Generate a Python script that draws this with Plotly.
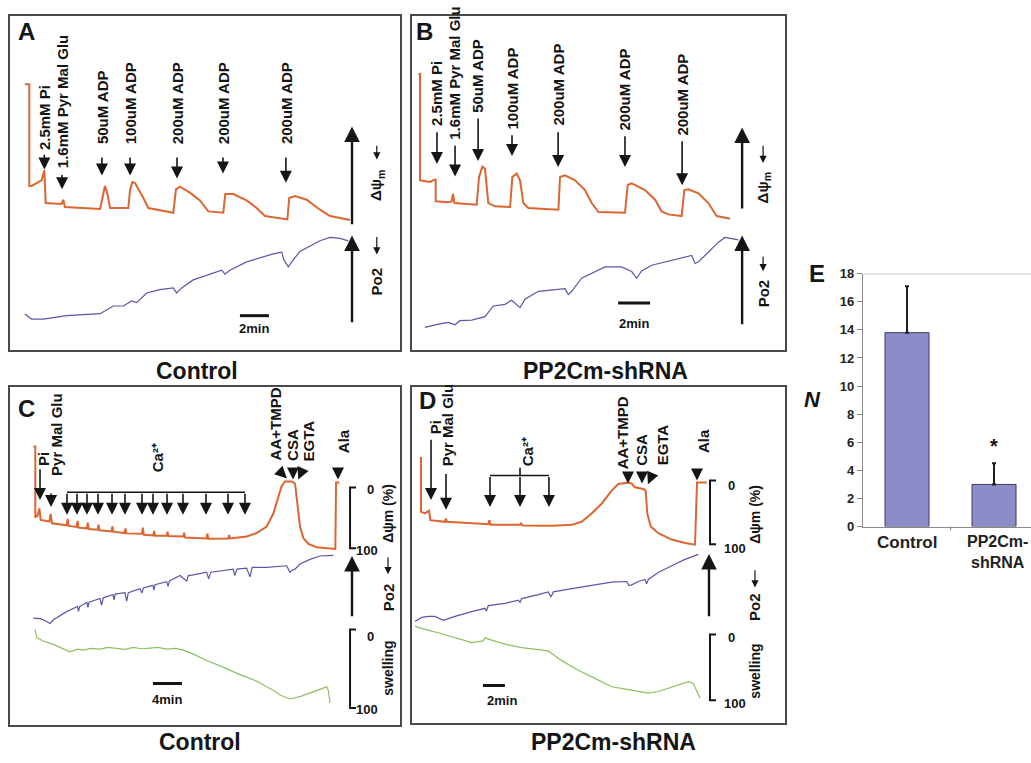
import plotly.graph_objects as go

W, H = 1031, 763
FONT = "Liberation Sans, Arial, Helvetica, sans-serif"
ORANGE = "#dc6530"
BLUE = "#5858a8"
GREEN = "#8cc060"
INK = "#151515"
FRAME = "#4a4a4a"

# ---------------- data (time in min, signal in a.u. 0-100 of trace window) ----------------
# Panel A : Control, ADP titration
A_t_psi = [1.03, 1.33, 1.33, 1.49, 2.18, 2.37, 2.46, 3.56, 3.68, 3.79, 6.21, 6.39, 6.55, 6.71, 6.90, 8.16, 8.28, 8.44,
           8.62, 9.20, 9.54, 11.26, 11.45, 11.72, 12.41, 13.10, 13.68, 14.71, 14.85, 15.40, 16.32, 17.01, 17.59, 19.13,
           19.26, 19.66, 20.46, 21.38, 22.07, 23.45]
A_psi = [79.5, 79.5, 49.1, 49.1, 50.8, 53.8, 44.0, 43.7, 45.0, 42.8, 42.2, 45.9, 49.1, 46.9, 42.5, 42.5, 47.9, 50.3,
         50.0, 45.5, 42.5, 41.1, 48.1, 48.9, 47.1, 44.8, 41.5, 41.1, 46.7, 46.7, 44.8, 42.5, 40.1, 39.1,
         45.5, 46.1, 45.0, 42.0, 40.1, 38.9]
A_t_po2 = [1.03, 1.49, 2.30, 3.91, 6.21, 6.55, 7.13, 7.82, 8.39, 8.74, 9.43, 10.34, 11.26, 11.49, 11.84, 12.64, 14.02,
           14.60, 14.83, 15.17, 16.32, 18.16, 18.74, 18.90, 19.20, 19.43, 20.00, 21.38, 22.07, 22.76, 23.33]
A_po2 = [10.8, 9.3, 9.3, 10.3, 10.9, 11.7, 13.2, 13.2, 14.7, 14.2, 17.1, 18.1, 18.6, 17.1, 18.6, 21.0, 23.0,
         23.9, 22.7, 23.9, 26.4, 28.8, 29.3, 26.9, 24.9, 26.4, 29.5, 32.7, 33.7, 33.4, 32.7]
A_labels = ["2.5mM Pi", "1.6mM Pyr Mal Glu", "50uM ADP", "100uM ADP", "200uM ADP", "200uM ADP", "200uM ADP"]
A_times = [2.37, 3.59, 6.34, 8.28, 11.52, 14.69, 19.03]
A_scale_min = 2

# Panel B : PP2Cm-shRNA, ADP titration
B_t_psi = [0.40, 0.50, 0.50, 1.13, 1.40, 1.48, 1.48, 2.27, 2.48, 2.56, 2.65, 4.04, 4.19, 4.40, 4.56, 4.77, 5.19, 6.13,
           6.27, 6.54, 6.75, 6.96, 7.27, 9.15, 9.25, 9.56, 10.19, 10.81, 11.23, 11.65, 13.31, 13.48, 13.73, 14.56,
           15.19, 15.60, 16.02, 16.85, 17.02, 17.27, 17.90, 18.52, 19.04, 19.88]
B_psi = [82.6, 82.6, 50.8, 50.3, 51.0, 51.0, 44.5, 44.2, 44.5, 46.7, 44.0, 43.5, 51.8, 54.9, 54.3, 44.0, 43.0, 42.8,
         51.8, 52.8, 50.8, 44.0, 42.5, 42.0, 51.8, 52.3, 50.8, 47.9, 44.0, 41.3, 41.1, 49.4, 49.9, 47.9,
         45.0, 41.5, 40.6, 40.1, 47.9, 48.1, 46.9, 44.0, 40.1, 39.3]
B_t_po2 = [0.81, 1.65, 2.27, 2.69, 3.00, 3.73, 4.56, 4.77, 5.08, 5.81, 6.23, 6.75, 7.06, 7.90, 8.73, 9.56, 9.77, 9.98,
           10.60, 12.06, 13.10, 13.73, 14.04, 14.35, 14.98, 16.65, 17.48, 17.69, 17.90, 18.31, 19.15, 19.56, 20.40]
B_po2 = [6.8, 7.8, 8.3, 7.6, 8.8, 9.0, 10.0, 11.2, 13.2, 13.7, 14.9, 12.7, 15.2, 17.6, 18.1, 18.4, 16.6, 17.6,
         21.5, 24.9, 24.9, 23.5, 21.5, 23.7, 25.4, 27.4, 28.3, 25.9, 26.4, 28.3, 32.3, 33.7, 33.0]
B_labels = A_labels
B_times = [1.56, 2.69, 4.13, 6.25, 9.13, 13.31, 16.88]
B_scale_min = 2

# Panel C : Control, Ca2+ pulses
C_t_psi = [3.22, 3.49, 3.49, 3.77, 4.05, 4.23, 5.43, 5.61, 5.79, 7.80, 7.95, 8.10, 9.20, 9.32, 9.45, 10.60, 10.72,
           10.85, 12.10, 12.22, 12.35, 14.00, 14.12, 14.25, 15.80, 15.92, 16.05, 18.20, 18.32, 18.45, 19.75, 19.87,
           20.00, 21.60, 21.72, 21.85, 23.90, 24.02, 24.15, 26.20, 27.10, 27.22, 27.35, 30.10, 30.22, 30.35, 32.64,
           34.02, 35.40, 36.32, 37.01, 37.47, 37.93, 38.85, 39.31, 39.68, 40.00, 40.46, 41.15, 42.30, 44.60, 44.87,
           44.97, 45.43]
C_psi = [82.5, 82.5, 61.6, 61.8, 64.1, 60.7, 60.2, 62.5, 59.7, 59.1, 61.0, 58.9, 58.6, 60.4, 58.4, 58.2, 59.9,
         58.0, 57.8, 59.3, 57.6, 57.3, 58.8, 57.2, 56.8, 58.2, 56.7, 56.6, 58.4, 56.3, 56.1, 57.4,
         56.0, 56.0, 57.2, 55.9, 55.8, 56.9, 55.5, 55.3, 55.2, 56.6, 55.1, 55.2, 56.2, 55.2, 55.8,
         56.8, 58.7, 62.6, 67.4, 70.8, 72.1, 72.1, 71.5, 64.5, 58.7, 55.3, 53.6, 52.6, 52.1, 52.1,
         71.8, 71.8]
C_t_po2 = [3.22, 4.20, 5.06, 5.52, 5.98, 7.82, 9.30, 9.45, 9.60, 10.60, 10.75, 10.90, 12.41, 12.64, 12.87, 14.20, 14.35,
           14.50, 15.86, 16.09, 16.32, 17.93, 18.20, 18.40, 19.70, 19.85, 20.00, 21.61, 21.80, 22.00, 23.45, 24.37,
           24.60, 25.29, 27.13, 27.40, 27.70, 30.80, 31.00, 31.30, 32.64, 33.10, 33.40, 35.40, 38.16, 38.60, 38.85,
           39.31, 40.00, 41.38, 42.76, 44.60]
C_po2 = [31.6, 31.4, 30.6, 30.0, 31.1, 33.5, 35.0, 33.6, 35.0, 36.2, 34.8, 36.3, 37.4, 35.4, 37.6, 38.6, 37.0,
         38.7, 39.1, 36.6, 39.1, 40.3, 39.0, 40.5, 41.3, 39.9, 41.5, 42.4, 41.0, 42.6, 44.2, 42.6,
         44.2, 44.4, 45.2, 43.2, 45.2, 46.1, 44.2, 46.1, 46.4, 43.8, 46.6, 46.6, 47.1, 45.2, 45.7,
         46.1, 47.6, 49.0, 50.0, 50.2]
C_t_sw = [3.45, 3.68, 4.60, 5.98, 7.20, 8.28, 9.30, 10.11, 11.20, 12.41, 13.50, 14.71, 15.90, 17.01, 18.10, 19.31,
          20.40, 21.61, 22.80, 23.91, 25.29, 27.13, 28.50, 29.89, 31.30, 32.64, 34.00, 35.40, 36.30, 37.24, 38.62,
          40.00, 41.84, 43.68, 43.91, 44.14]
C_sw = [28.2, 25.8, 24.8, 23.8, 22.6, 21.6, 22.4, 22.1, 22.6, 22.4, 22.9, 22.7, 22.3, 22.9, 22.5, 22.7,
        22.9, 22.4, 22.6, 22.1, 20.9, 19.0, 17.9, 16.6, 15.2, 14.1, 12.9, 11.2, 10.2, 8.8, 7.6,
        8.3, 9.8, 11.2, 10.1, 6.4]
C_ca_times = [7.86, 9.24, 10.62, 12.14, 14.07, 15.86, 18.21, 19.72, 21.66, 23.86, 27.03, 30.07, 32.41]
C_scale_min = 4

# Panel D : PP2Cm-shRNA, Ca2+ pulses
D_t_psi = [0.73, 0.82, 0.82, 1.18, 1.55, 1.67, 3.00, 3.09, 3.18, 6.94, 7.03, 7.15, 9.82, 9.91, 10.03, 12.85, 14.52,
           15.42, 16.33, 17.24, 18.15, 18.76, 19.67, 19.97, 20.27, 21.03, 21.24, 21.39, 21.70, 22.39, 23.61, 24.82,
           25.73, 25.91, 26.79]
D_psi = [78.9, 78.9, 62.9, 62.4, 63.2, 60.4, 59.9, 60.9, 59.9, 59.2, 60.4, 59.0, 59.0, 59.6, 58.8, 58.7, 59.0,
         59.9, 62.4, 65.3, 69.2, 71.2, 71.6, 71.3, 70.2, 69.7, 69.2, 62.4, 58.5, 56.5, 54.6, 53.6,
         53.1, 71.6, 71.6]
D_t_po2 = [0.27, 0.88, 1.48, 2.09, 2.85, 3.91, 5.42, 6.64, 6.76, 6.94, 8.45, 9.67, 9.82, 9.97, 11.48, 12.39, 12.64,
           12.85, 14.52, 16.33, 18.15, 19.52, 19.73, 19.97, 20.58, 21.18, 21.33, 21.48, 22.39, 23.61, 24.82, 26.03]
D_po2 = [30.2, 31.4, 31.7, 31.7, 30.5, 31.7, 33.1, 34.1, 33.3, 34.9, 35.6, 36.5, 35.9, 37.0, 38.2, 39.0, 37.5,
         39.0, 40.0, 40.9, 41.9, 42.1, 40.9, 41.1, 42.1, 42.7, 41.4, 42.7, 44.8, 46.8, 48.7, 50.2]
D_t_sw = [0.27, 1.18, 2.39, 3.91, 5.42, 6.48, 6.64, 6.94, 8.45, 9.97, 11.48, 12.39, 13.61, 15.12, 16.64, 18.15,
          19.97, 21.48, 22.39, 23.61, 25.12, 25.58, 25.88, 26.18]
D_sw = [28.8, 27.8, 26.8, 25.3, 23.9, 24.4, 25.3, 24.9, 23.4, 22.4, 21.9, 21.4, 18.5, 15.6, 13.2, 10.7,
        9.7, 8.8, 9.3, 10.7, 12.2, 11.7, 9.7, 7.3]
D_ca_times = [7.09, 9.82, 12.45]
D_scale_min = 2

CD_events = ["Pi", "Pyr Mal Glu", "Ca²⁺", "AA+TMPD", "CSA", "EGTA", "Ala"]

# Panel E : number of Ca2+ pulses tolerated
E_groups = ["Control", "PP2Cm-<br>shRNA"]
E_N = [13.8, 3.0]
E_err = [3.3, 1.5]
E_yticks = [0, 2, 4, 6, 8, 10, 12, 14, 16, 18]

# ---------------- layout geometry ----------------
def px(x):
    return x / W


def py(y):
    return 1 - y / H


boxes = {"": (10, 9, 400, 350, 26.9), "2": (412, 9, 785, 350, 23.31),
         "3": (10, 388, 400, 732, 53.79), "4": (412, 388, 785, 730, 33.91)}

fig = go.Figure()
layout = dict(width=W, height=H, margin=dict(l=0, r=0, t=0, b=0), paper_bgcolor="white",
              plot_bgcolor="white", showlegend=False, font=dict(family=FONT, color=INK))

for k, (x0, y0, x1, y1, xr) in boxes.items():
    common = dict(showline=True, mirror=True, linecolor=FRAME, linewidth=1.5, showgrid=False,
                  zeroline=False, showticklabels=False, ticks="", fixedrange=True)
    layout["xaxis" + k] = dict(domain=[px(x0), px(x1)], range=[0, xr], anchor="y" + k, **common)
    layout["yaxis" + k] = dict(domain=[py(y1), py(y0)], range=[0, 100], anchor="x" + k, **common)

ann = []
shapes = []


def line(k, t, y, color, width):
    fig.add_trace(go.Scatter(x=t, y=y, mode="lines", line=dict(color=color, width=width),
                             xaxis="x" + k, yaxis="y" + k, hoverinfo="skip"))


def label(k, t, y, text, size=13, angle=-90, xanchor="center", yanchor="bottom"):
    ann.append(dict(x=t, y=y, xref="x" + k, yref="y" + k, text=text, showarrow=False, textangle=angle,
                    xanchor=xanchor, yanchor=yanchor, font=dict(size=size, weight="bold", color=INK)))


def arrow(k, t0, y0, t1, y1, width=1.6, size=1.5):
    ann.append(dict(x=t1, y=y1, ax=t0, ay=y0, xref="x" + k, yref="y" + k, axref="x" + k, ayref="y" + k,
                    text="", showarrow=True, arrowhead=2, arrowsize=size, arrowwidth=width,
                    arrowcolor=INK, standoff=0, startstandoff=0))


def scalebar(k, t0, y, minutes, ylab, tlab=None):
    shapes.append(dict(type="line", xref="x" + k, yref="y" + k, x0=t0, x1=t0 + minutes, y0=y, y1=y,
                       line=dict(color=INK, width=3)))
    label(k, tlab if tlab is not None else t0 + minutes / 2, ylab, f"{minutes}min", size=13, angle=0,
          yanchor="middle")


def bracket(k, t, ytop, ybot, tick):
    shapes.append(dict(type="path", xref="x" + k, yref="y" + k,
                       path=f"M {t + tick},{ytop} L {t},{ytop} L {t},{ybot} L {t + tick},{ybot}",
                       line=dict(color=INK, width=2)))


# ---- Panel A ----
line("", A_t_psi, A_psi, ORANGE, 2)
line("", A_t_po2, A_po2, BLUE, 1.2)
A_lab_y = [59.2, 53.7, 61.0, 61.0, 61.0, 61.0, 61.0]
A_arr = [(58.9, 54.0), (52.8, 48.1), (58.1, 52.2), (58.1, 52.2), (58.1, 51.3), (58.1, 52.8), (58.1, 50.1)]
for txt, t, yl, (ya, yb) in zip(A_labels, A_times, A_lab_y, A_arr):
    label("", t, yl, txt, size=15)
    arrow("", t, ya, t, yb)
label("", 1.17, 95.3, "A", size=24, angle=0, yanchor="middle")
arrow("", 23.59, 37.2, 23.59, 66.9, width=2.4, size=1.3)
arrow("", 23.59, 7.9, 23.59, 34.3, width=2.4, size=1.3)
label("", 25.3, 49.3, "Δψ<sub>m</sub>", size=15, yanchor="middle")
arrow("", 25.3, 61.6, 25.3, 57.0, width=1.2, size=1.2)
label("", 25.3, 20.5, "Po2", size=15, yanchor="middle")
arrow("", 25.3, 34.3, 25.3, 28.6, width=1.2, size=1.2)
scalebar("", 15.86, 10.3, A_scale_min, 6.5)

# ---- Panel B ----
line("2", B_t_psi, B_psi, ORANGE, 2)
line("2", B_t_po2, B_po2, BLUE, 1.2)
B_lab_y = [66.6, 62.2, 70.4, 65.4, 66.6, 65.1, 63.6]
B_arr = [(65.6, 55.7), (61.6, 51.9), (69.7, 56.6), (64.7, 58.1), (65.6, 54.8), (64.4, 54.8), (62.9, 49.3)]
for txt, t, yl, (ya, yb) in zip(B_labels, B_times, B_lab_y, B_arr):
    label("2", t, yl, txt, size=15)
    arrow("2", t, ya, t, yb)
label("2", 0.81, 95.3, "B", size=24, angle=0, yanchor="middle")
arrow("2", 20.63, 41.9, 20.63, 66.6, width=2.4, size=1.3)
arrow("2", 20.63, 7.3, 20.63, 34.3, width=2.4, size=1.3)
label("2", 21.94, 48.4, "Δψ<sub>m</sub>", size=15, yanchor="middle")
arrow("2", 21.94, 61.6, 21.94, 56.0, width=1.2, size=1.2)
label("2", 21.94, 17.0, "Po2", size=15, yanchor="middle")
arrow("2", 21.94, 28.4, 21.94, 23.6, width=1.2, size=1.2)
scalebar("2", 12.88, 14.1, B_scale_min, 7.9)

# ---- Panel C ----
line("3", C_t_psi, C_psi, ORANGE, 2)
line("3", C_t_po2, C_po2, BLUE, 1.2)
line("3", C_t_sw, C_sw, GREEN, 1.2)
C_lab_pos = [(4.60, 76.2), (6.48, 73.3), (20.28, 74.1), (36.55, 77.6), (39.03, 77.6), (41.10, 77.6), (45.93, 79.9)]
for txt, (t, y) in zip(CD_events, C_lab_pos):
    label("3", t, y, txt, size=15)
arrow("3", 4.14, 76.2, 4.14, 66.6)
arrow("3", 5.66, 69.0, 5.66, 64.5)
for t in C_ca_times:
    arrow("3", t, 68.9, t, 62.2)
shapes.append(dict(type="line", xref="x3", yref="y3", x0=C_ca_times[0], x1=C_ca_times[-1], y0=68.9, y1=68.9,
                   line=dict(color=INK, width=1.6)))
arrow("3", 37.1, 75.3, 38.2, 73.0)
arrow("3", 39.03, 75.6, 39.03, 72.7)
arrow("3", 40.35, 75.6, 39.75, 72.7)
arrow("3", 45.24, 76.2, 45.24, 72.7)
label("3", 2.34, 93.6, "C", size=24, angle=0, yanchor="middle")
bracket("3", 46.90, 70.3, 52.3, 0.82)
label("3", 49.66, 69.8, "0", size=13, angle=0, yanchor="middle")
label("3", 49.24, 51.5, "100", size=13, angle=0, yanchor="middle")
label("3", 52.14, 62.5, "Δψm (%)", size=14, yanchor="middle")
arrow("3", 47.17, 31.7, 47.17, 50.0, width=2.4, size=1.3)
label("3", 52.14, 37.8, "Po2", size=15, yanchor="middle")
arrow("3", 52.14, 50.0, 52.14, 44.6, width=1.2, size=1.2)
bracket("3", 46.90, 28.2, 4.9, 0.82)
label("3", 49.66, 26.2, "0", size=13, angle=0, yanchor="middle")
label("3", 49.24, 4.4, "100", size=13, angle=0, yanchor="middle")
label("3", 52.14, 16.6, "swelling", size=14, yanchor="middle")
scalebar("3", 19.72, 12.2, C_scale_min, 7.3)

# ---- Panel D ----
line("4", D_t_psi, D_psi, ORANGE, 2)
line("4", D_t_po2, D_po2, BLUE, 1.2)
line("4", D_t_sw, D_sw, GREEN, 1.2)
D_lab_pos = [(2.09, 85.4), (3.18, 76.0), (10.45, 76.0), (19.09, 75.1), (20.91, 76.0), (22.73, 76.0), (26.45, 79.8)]
for txt, (t, y) in zip(CD_events, D_lab_pos):
    label("4", t, y, txt, size=15)
arrow("4", 1.73, 84.8, 1.73, 66.4)
arrow("4", 3.09, 74.6, 3.09, 63.5)
for t in D_ca_times:
    arrow("4", t, 73.7, t, 64.3)
shapes.append(dict(type="line", xref="x4", yref="y4", x0=D_ca_times[0], x1=D_ca_times[-1], y0=73.7, y1=73.7,
                   line=dict(color=INK, width=1.6)))
shapes.append(dict(type="line", xref="x4", yref="y4", x0=D_ca_times[1], x1=D_ca_times[1], y0=73.7, y1=76.0,
                   line=dict(color=INK, width=1.6)))
arrow("4", 19.64, 74.6, 19.64, 71.3)
arrow("4", 20.91, 75.1, 20.91, 71.3)
arrow("4", 21.91, 74.6, 21.45, 71.1)
arrow("4", 25.91, 76.0, 25.91, 72.2)
label("4", 1.45, 96.2, "D", size=24, angle=0, yanchor="middle")
bracket("4", 27.09, 72.2, 53.2, 0.55)
label("4", 29.09, 70.8, "0", size=13, angle=0, yanchor="middle")
label("4", 29.36, 51.8, "100", size=13, angle=0, yanchor="middle")
label("4", 31.18, 62.3, "Δψm (%)", size=14, yanchor="middle")
arrow("4", 27.0, 31.3, 27.0, 50.3, width=2.4, size=1.3)
label("4", 31.18, 34.5, "Po2", size=15, yanchor="middle")
arrow("4", 31.18, 45.9, 31.18, 40.3, width=1.2, size=1.2)
bracket("4", 27.09, 26.3, 6.7, 0.55)
label("4", 29.09, 25.4, "0", size=13, angle=0, yanchor="middle")
label("4", 29.36, 5.8, "100", size=13, angle=0, yanchor="middle")
label("4", 31.18, 15.5, "swelling", size=14, yanchor="middle")
scalebar("4", 6.45, 11.1, D_scale_min, 6.7, tlab=8.18)

# ---- Panel E ----
fig.add_trace(go.Bar(x=[0, 1], y=E_N, width=0.506, marker=dict(color="#8c8cc9", line=dict(color="#3c3c5c", width=1)),
                     error_y=dict(type="data", array=E_err, arrayminus=[0, 0], symmetric=False, color="#1e1e1e",
                                  thickness=2, width=2),
                     xaxis="x5", yaxis="y5", hoverinfo="skip"))
layout["xaxis5"] = dict(domain=[px(863), 1.0], range=[-0.506, 1.425], anchor="y5", showticklabels=False,
                        ticks="", showline=True, linecolor="#8a8a8a",
                        linewidth=1.2, showgrid=False, zeroline=False, fixedrange=True)
layout["yaxis5"] = dict(domain=[py(530), py(272)], range=[0, 18], anchor="x5", tickmode="array",
                        tickvals=E_yticks, ticks="outside", ticklen=5, tickcolor="#8a8a8a", showline=True,
                        linecolor="#8a8a8a", linewidth=1.2, showgrid=False, zeroline=False, fixedrange=True,
                        tickfont=dict(size=13, weight="bold", color="#222"))
shapes.append(dict(type="line", xref="x5 domain", yref="y5", x0=0, x1=1, y0=18, y1=18,
                   line=dict(color="#9a9a9a", width=1.2)))
shapes.append(dict(type="line", xref="x5", yref="y5 domain", x0=0.5, x1=0.5, y0=0, y1=-0.015,
                   line=dict(color="#8a8a8a", width=1.2)))
ann.append(dict(x=0, y=0, xref="x5", yref="y5", text=E_groups[0], showarrow=False, xanchor="center",
                yanchor="top", yshift=-4, font=dict(size=17, weight="bold", color="#222")))
ann.append(dict(x=px(1030), y=0, xref="paper", yref="y5", text=E_groups[1], showarrow=False, xanchor="right",
                align="center", yanchor="top", yshift=-4, font=dict(size=16, weight="bold", color="#222")))
ann.append(dict(x=1, y=E_N[1] + E_err[1] + 1.2, xref="x5", yref="y5", text="*", showarrow=False,
                font=dict(size=20, weight="bold", color=INK), yanchor="middle"))

# ---- free text (paper coordinates) ----
def ptext(x, y, text, size, italic=False):
    ann.append(dict(x=px(x), y=py(y), xref="paper", yref="paper", text=text, showarrow=False,
                    xanchor="center", yanchor="middle",
                    font=dict(size=size, weight="bold", style="italic" if italic else "normal", color=INK)))


ptext(817, 272, "E", 24)
ptext(812, 400, "N", 22, italic=True)
ptext(197, 371, "Control", 23)
ptext(605, 371, "PP2Cm-shRNA", 23)
ptext(200, 750, "Control", 23)
ptext(613, 750, "PP2Cm-shRNA", 23)

layout["annotations"] = ann
layout["shapes"] = shapes
fig.update_layout(**layout)
fig.write_html("out.html", config={"displayModeBar": False},
               post_script="document.body.style.margin='0';")
